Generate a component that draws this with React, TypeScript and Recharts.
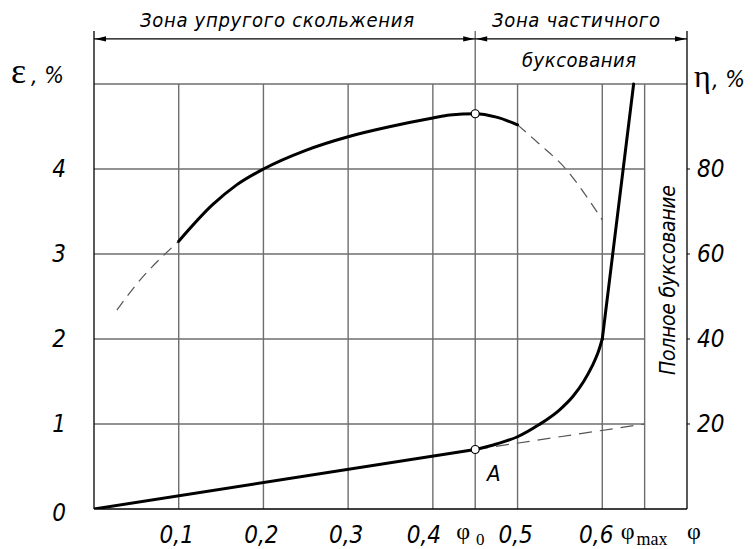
import React from 'react';
import {
  ComposedChart,
  Line,
  XAxis,
  YAxis,
  ReferenceLine,
  ReferenceDot,
  Customized,
} from 'recharts';

// ---- data ----
const phiTicks = [0.1, 0.2, 0.3, 0.4, 0.45, 0.5, 0.6, 0.65, 0.7];
const phiTickLabels = ['0,1', '0,2', '0,3', '0,4', 'φ0', '0,5', '0,6', 'φmax', 'φ'];
const epsTicks = [0, 1, 2, 3, 4];
const etaTicks = [20, 40, 60, 80];
const gridEps = [1, 2, 3, 4];
const gridPhi = [0.1, 0.2, 0.3, 0.4, 0.5, 0.6, 0.65];

// slip ε, % — elastic zone (straight), partial slipping (curve), full slipping (steep)
const slipElastic = [
  { phi: 0, eps: 0 },
  { phi: 0.45, eps: 0.7 },
];
const slipPartial = [
  { phi: 0.45, eps: 0.7 },
  { phi: 0.475, eps: 0.765 },
  { phi: 0.5, eps: 0.85 },
  { phi: 0.525, eps: 0.99 },
  { phi: 0.55, eps: 1.17 },
  { phi: 0.565, eps: 1.32 },
  { phi: 0.578, eps: 1.5 },
  { phi: 0.588, eps: 1.68 },
  { phi: 0.595, eps: 1.84 },
  { phi: 0.6, eps: 2.0 },
];
const slipFull = [
  { phi: 0.6, eps: 2.0 },
  { phi: 0.637, eps: 5.0 },
];
const slipDashed = [
  { phi: 0.45, eps: 0.7 },
  { phi: 0.65, eps: 1.0 },
];

// efficiency η, %
const effDashedLeft = [
  { phi: 0.027, eta: 46.8 },
  { phi: 0.054, eta: 53.8 },
  { phi: 0.086, eta: 60.4 },
  { phi: 0.1, eta: 63 },
];
const effSolid = [
  { phi: 0.1, eta: 63 },
  { phi: 0.14, eta: 71.6 },
  { phi: 0.168, eta: 76.2 },
  { phi: 0.2, eta: 80 },
  { phi: 0.25, eta: 84.4 },
  { phi: 0.3, eta: 87.6 },
  { phi: 0.35, eta: 90.0 },
  { phi: 0.4, eta: 92.0 },
  { phi: 0.42, eta: 92.7 },
  { phi: 0.45, eta: 93 },
  { phi: 0.475, eta: 92.2 },
  { phi: 0.5, eta: 90.4 },
];
const effDashedRight = [
  { phi: 0.5, eta: 90.4 },
  { phi: 0.525, eta: 86 },
  { phi: 0.557, eta: 80 },
  { phi: 0.584, eta: 72.8 },
  { phi: 0.6, eta: 68 },
];

const pointPhi0 = { phi: 0.45, eps: 0.7, eta: 93 };

const EPS_MAX = 5.6235;
const ETA_MAX = EPS_MAX * 20;
const ARROW_EPS = 5.53;

const GOST = '"Liberation Sans Narrow", "DejaVu Sans Condensed", "Liberation Sans", sans-serif';
const SERIF = '"Liberation Serif", "DejaVu Serif", serif';
const GRID = '#6e6e6e';

const XTick = (props: any) => {
  const { x, y, payload } = props;
  const v = payload.value;
  const i = phiTicks.indexOf(v);
  const label = phiTickLabels[i];
  const by = y + 34;
  if (label === 'φ0') {
    return (
      <text x={x - 19} y={by - 4} fontFamily={SERIF} fontSize={24} fill="#000">
        φ<tspan fontSize={17} dy={6} dx={6}>0</tspan>
      </text>
    );
  }
  if (label === 'φmax') {
    return (
      <text x={x - 24} y={by - 4} fontFamily={SERIF} fontSize={24} fill="#000">
        φ<tspan fontSize={18} dy={6} dx={2}>max</tspan>
      </text>
    );
  }
  if (label === 'φ') {
    return (
      <text x={x + 7} y={by - 4} textAnchor="middle" fontFamily={SERIF} fontSize={24} fill="#000">
        φ
      </text>
    );
  }
  let shift = -2;
  if (label === '0,4') shift = -9;
  if (label === '0,6') shift = -6;
  return (
    <text x={x + shift} y={by} textAnchor="middle" fontFamily={GOST} fontStyle="italic" fontSize={24} fill="#000">
      {label}
    </text>
  );
};

const LeftTick = (props: any) => {
  const { x, y, payload } = props;
  const v = payload.value;
  return (
    <text x={x - 28} y={y + (v === 0 ? 4 : 0)} dy="0.35em" textAnchor="end" fontFamily={GOST} fontStyle="italic" fontSize={24} fill="#000">
      {String(v)}
    </text>
  );
};

const RightTick = (props: any) => {
  const { x, y, payload } = props;
  return (
    <text x={x + 7} y={y} dy="0.35em" textAnchor="start" fontFamily={GOST} fontStyle="italic" fontSize={24} fill="#000">
      {String(payload.value)}
    </text>
  );
};

const ArrowShape = (props: any) => {
  const { x1, y1, x2, y2 } = props;
  const L = 11;
  const W = 2.6;
  return (
    <g>
      <line x1={x1} y1={y1} x2={x2} y2={y2} stroke="#000" strokeWidth={1.3} />
      <polygon points={`${x1 + 1},${y1} ${x1 + 1 + L},${y1 - W} ${x1 + 1 + L},${y1 + W}`} fill="#000" />
      <polygon points={`${x2 - 1},${y2} ${x2 - 1 - L},${y2 - W} ${x2 - 1 - L},${y2 + W}`} fill="#000" />
    </g>
  );
};

const Annotations = () => (
  <g>
    <text x={277} y={27} textAnchor="middle" fontFamily={GOST} fontStyle="italic" fontSize={20} fill="#000" textLength={274} lengthAdjust="spacing">
      Зона упругого скольжения
    </text>
    <text x={576} y={27} textAnchor="middle" fontFamily={GOST} fontStyle="italic" fontSize={20} fill="#000" textLength={168} lengthAdjust="spacing">
      Зона частичного
    </text>
    <text x={579} y={67} textAnchor="middle" fontFamily={GOST} fontStyle="italic" fontSize={20} fill="#000" textLength={114} lengthAdjust="spacing">
      буксования
    </text>
    <text x={11} y={83} fontFamily={SERIF} fontSize={36} fill="#000">
      ε
    </text>
    <text x={31} y={83} fontFamily={GOST} fontStyle="italic" fontSize={23} fill="#000">
      , %
    </text>
    <text x={694} y={87} fontFamily={SERIF} fontSize={32} fill="#000">
      η
    </text>
    <text x={712} y={87} fontFamily={GOST} fontStyle="italic" fontSize={23} fill="#000">
      , %
    </text>
    <text
      x={668}
      y={280}
      textAnchor="middle"
      dy="0.35em"
      transform="rotate(-90 668 280)"
      fontFamily={GOST}
      fontStyle="italic"
      fontSize={21}
      fill="#000"
      textLength={190}
      lengthAdjust="spacing"
    >
      Полное буксование
    </text>
    <text x={487} y={481} fontFamily={GOST} fontStyle="italic" fontSize={22} fill="#000">
      A
    </text>
  </g>
);

const boldLine = {
  xAxisId: 'x',
  stroke: '#000',
  strokeWidth: 3,
  strokeLinecap: 'round' as const,
  strokeLinejoin: 'round' as const,
  dot: false,
  activeDot: false,
  isAnimationActive: false,
};

const dashLine = {
  xAxisId: 'x',
  stroke: '#555',
  strokeWidth: 1.2,
  dot: false,
  activeDot: false,
  isAnimationActive: false,
};

export default function App() {
  return (
    <div style={{ position: 'absolute', left: 0, top: 0, background: '#fff' }}>
      <ComposedChart width={753} height={549} margin={{ top: 31, right: 0, bottom: 0, left: 0 }}>
        <XAxis
          xAxisId="x"
          type="number"
          dataKey="phi"
          domain={[0, 0.7]}
          ticks={phiTicks}
          interval={0}
          allowDataOverflow
          height={40}
          tickSize={0}
          tickMargin={0}
          tickLine={false}
          axisLine={{ stroke: '#000', strokeWidth: 1.3 }}
          tick={<XTick />}
        />
        <YAxis
          yAxisId="eps"
          type="number"
          domain={[0, EPS_MAX]}
          ticks={epsTicks}
          interval={0}
          allowDataOverflow
          width={94}
          tickSize={0}
          tickMargin={0}
          tickLine={false}
          axisLine={{ stroke: '#000', strokeWidth: 1.3 }}
          tick={<LeftTick />}
        />
        <YAxis
          yAxisId="eta"
          orientation="right"
          type="number"
          domain={[0, ETA_MAX]}
          ticks={etaTicks}
          interval={0}
          allowDataOverflow
          width={66}
          tickSize={3}
          tickMargin={0}
          tickLine={{ stroke: '#000', strokeWidth: 1 }}
          axisLine={{ stroke: '#000', strokeWidth: 1.3 }}
          tick={<RightTick />}
        />

        {gridEps.map((e) => (
          <ReferenceLine
            key={`h${e}`}
            xAxisId="x"
            yAxisId="eps"
            segment={[{ x: 0, y: e }, { x: 0.65, y: e }]}
            stroke={GRID}
            strokeWidth={1.4}
            ifOverflow="visible"
          />
        ))}
        <ReferenceLine
          xAxisId="x"
          yAxisId="eps"
          segment={[{ x: 0, y: 5 }, { x: 0.7, y: 5 }]}
          stroke={GRID}
          strokeWidth={1.4}
          ifOverflow="visible"
        />
        {gridPhi.map((p) => (
          <ReferenceLine
            key={`v${p}`}
            xAxisId="x"
            yAxisId="eps"
            segment={[{ x: p, y: 0 }, { x: p, y: 5 }]}
            stroke={GRID}
            strokeWidth={1.4}
            ifOverflow="visible"
          />
        ))}
        <ReferenceLine
          xAxisId="x"
          yAxisId="eps"
          segment={[{ x: 0.45, y: 0 }, { x: 0.45, y: EPS_MAX }]}
          stroke={GRID}
          strokeWidth={1.4}
          ifOverflow="visible"
        />
        <ReferenceLine
          xAxisId="x"
          yAxisId="eps"
          segment={[{ x: 0, y: ARROW_EPS }, { x: 0.45, y: ARROW_EPS }]}
          shape={<ArrowShape />}
          ifOverflow="visible"
        />
        <ReferenceLine
          xAxisId="x"
          yAxisId="eps"
          segment={[{ x: 0.45, y: ARROW_EPS }, { x: 0.7, y: ARROW_EPS }]}
          shape={<ArrowShape />}
          ifOverflow="visible"
        />

        <Line {...dashLine} yAxisId="eps" data={slipDashed} dataKey="eps" type="linear" strokeDasharray="13 8" />
        <Line {...boldLine} yAxisId="eps" data={slipElastic} dataKey="eps" type="linear" />
        <Line {...boldLine} yAxisId="eps" data={slipPartial} dataKey="eps" type="monotone" />
        <Line {...boldLine} yAxisId="eps" data={slipFull} dataKey="eps" type="linear" />

        <Line {...dashLine} yAxisId="eta" data={effDashedLeft} dataKey="eta" type="monotone" strokeDasharray="11 7" />
        <Line {...dashLine} yAxisId="eta" data={effDashedRight} dataKey="eta" type="monotone" strokeDasharray="11 7" />
        <Line {...boldLine} yAxisId="eta" data={effSolid} dataKey="eta" type="monotone" />

        <ReferenceDot
          xAxisId="x"
          yAxisId="eps"
          x={pointPhi0.phi}
          y={pointPhi0.eps}
          r={4}
          fill="#fff"
          stroke="#000"
          strokeWidth={1.2}
          ifOverflow="visible"
        />
        <ReferenceDot
          xAxisId="x"
          yAxisId="eta"
          x={pointPhi0.phi}
          y={pointPhi0.eta}
          r={4}
          fill="#fff"
          stroke="#000"
          strokeWidth={1.2}
          ifOverflow="visible"
        />
        <Customized component={Annotations} />
      </ComposedChart>
    </div>
  );
}
